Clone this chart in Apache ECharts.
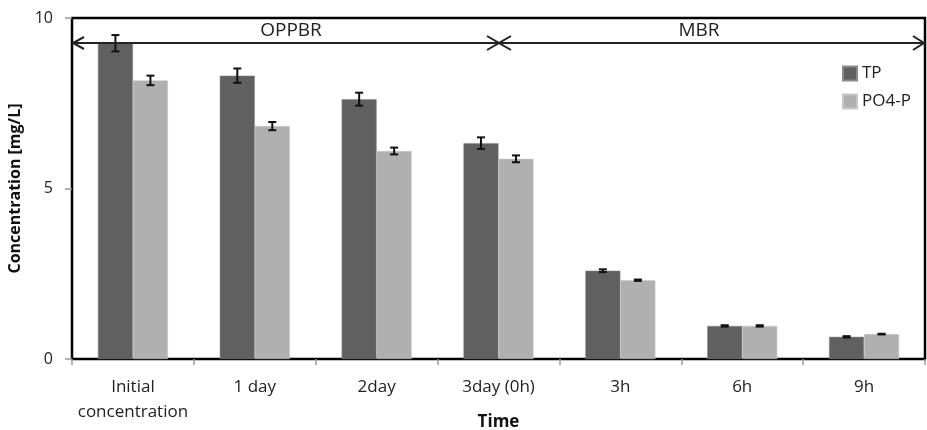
<!DOCTYPE html>
<html><head><meta charset="utf-8">
<script src="https://cdn.jsdelivr.net/npm/echarts@6/dist/echarts.min.js"></script>
<style>html,body{margin:0;padding:0;background:#fff}#c{width:927px;height:430px}</style>
</head><body><div id="c"></div>
<script>
const categories = ['Initial\nconcentration', '1 day', '2day', '3day (0h)', '3h', '6h', '9h'];
const tpValues = [9.26, 8.31, 7.62, 6.33, 2.59, 0.97, 0.65];
const tpErrors = [0.24, 0.21, 0.19, 0.17, 0.04, 0.02, 0.02];
const po4Values = [8.17, 6.83, 6.10, 5.87, 2.31, 0.97, 0.73];
const po4Errors = [0.14, 0.12, 0.10, 0.10, 0.02, 0.02, 0.01];
const yTicks = [0, 5, 10];

const FONT = '"Open Sans", "Liberation Sans", sans-serif';
const BAR_W = 35;

function errSeries(values, errors, offset) {
  return {
    type: 'custom',
    z: 10,
    silent: true,
    data: values.map((v, i) => [i, v, errors[i]]),
    renderItem: function (params, api) {
      const i = api.value(0), v = api.value(1), e = api.value(2);
      const hi = api.coord([i, v + e]);
      const lo = api.coord([i, v - e]);
      const x = hi[0] + offset;
      const cap = 4;
      const st = { stroke: '#111', lineWidth: 2 };
      return {
        type: 'group',
        children: [
          { type: 'line', shape: { x1: x, y1: hi[1], x2: x, y2: lo[1] }, style: st },
          { type: 'line', shape: { x1: x - cap, y1: hi[1], x2: x + cap, y2: hi[1] }, style: st },
          { type: 'line', shape: { x1: x - cap, y1: lo[1], x2: x + cap, y2: lo[1] }, style: st }
        ]
      };
    }
  };
}

const chart = echarts.init(document.getElementById('c'));
const gL = 72, gR = 925, gT = 18, gB = 359, arrowY = 43, mid = 499;
const lineSt = { stroke: '#222', lineWidth: 2 };
chart.setOption({
  animation: false,
  textStyle: { fontFamily: FONT },
  grid: { left: gL, right: 927 - gR, top: gT, bottom: 430 - gB, containLabel: false, outerBoundsMode: 'none',
    show: true, borderColor: '#000', borderWidth: 2.5, backgroundColor: 'transparent' },
  legend: {
    orient: 'vertical', left: 842, top: 65, padding: 0, itemWidth: 14, itemHeight: 14, itemGap: 11,
    icon: 'rect',
    textStyle: { fontFamily: FONT, fontSize: 17, lineHeight: 14, color: '#222', padding: [0, 0, 0, 0] },
    data: ['TP', 'PO4-P']
  },
  xAxis: {
    type: 'category',
    data: categories,
    name: 'Time', nameLocation: 'middle', nameGap: 63, nameMoveOverlap: false,
    nameTextStyle: { fontFamily: FONT, fontWeight: 'bold', fontSize: 17, color: '#111', verticalAlign: 'middle' },
    axisLine: { lineStyle: { color: '#000', width: 2 } },
    axisTick: { show: true, length: 6, lineStyle: { color: '#999', width: 1.5 } },
    axisLabel: { interval: 0, hideOverlap: false, fontFamily: FONT, fontSize: 17, color: '#222', margin: 16, lineHeight: 25 }
  },
  yAxis: {
    type: 'value', min: 0, max: 10, interval: 5,
    name: 'Concentration [mg/L]', nameLocation: 'middle', nameGap: 57, nameMoveOverlap: false,
    nameTextStyle: { fontFamily: FONT, fontWeight: 'bold', fontSize: 16, color: '#111', verticalAlign: 'middle' },
    axisLine: { show: true, lineStyle: { color: '#000', width: 2 } },
    axisTick: { show: true, length: 7, lineStyle: { color: '#999', width: 1.5 } },
    splitLine: { show: false },
    axisLabel: { fontFamily: FONT, fontSize: 16, color: '#222', margin: 19,
      formatter: v => yTicks.includes(v) ? String(v) : '' }
  },
  series: [
    { name: 'TP', type: 'bar', data: tpValues, barWidth: BAR_W, barGap: '0%',
      itemStyle: { color: '#606060', borderColor: '#8a8a8a', borderWidth: 0.5 } },
    { name: 'PO4-P', type: 'bar', data: po4Values, barWidth: BAR_W, barGap: '0%',
      itemStyle: { color: '#b0b0b0', borderColor: '#c8c8c8', borderWidth: 0.5 } },
    errSeries(tpValues, tpErrors, -BAR_W / 2),
    errSeries(po4Values, po4Errors, BAR_W / 2)
  ],
  graphic: [
    { type: 'line', shape: { x1: gL, y1: arrowY, x2: gR, y2: arrowY }, style: lineSt, z: 20 },
    { type: 'polyline', shape: { points: [[gL + 12, arrowY - 6], [gL + 1, arrowY], [gL + 12, arrowY + 6]] }, style: Object.assign({ fill: null }, lineSt), z: 20 },
    { type: 'polyline', shape: { points: [[mid - 12, arrowY - 7], [mid, arrowY], [mid - 12, arrowY + 7]] }, style: Object.assign({ fill: null }, lineSt), z: 20 },
    { type: 'polyline', shape: { points: [[mid + 12, arrowY - 7], [mid, arrowY], [mid + 12, arrowY + 7]] }, style: Object.assign({ fill: null }, lineSt), z: 20 },
    { type: 'polyline', shape: { points: [[gR - 12, arrowY - 7], [gR - 1, arrowY], [gR - 12, arrowY + 7]] }, style: Object.assign({ fill: null }, lineSt), z: 20 },
    { type: 'text', x: 291, y: 31, style: { text: 'OPPBR', font: '19px ' + FONT, fill: '#222', align: 'center', verticalAlign: 'middle' }, z: 20 },
    { type: 'text', x: 699, y: 31, style: { text: 'MBR', font: '19px ' + FONT, fill: '#222', align: 'center', verticalAlign: 'middle' }, z: 20 }
  ]
});
</script></body></html>
